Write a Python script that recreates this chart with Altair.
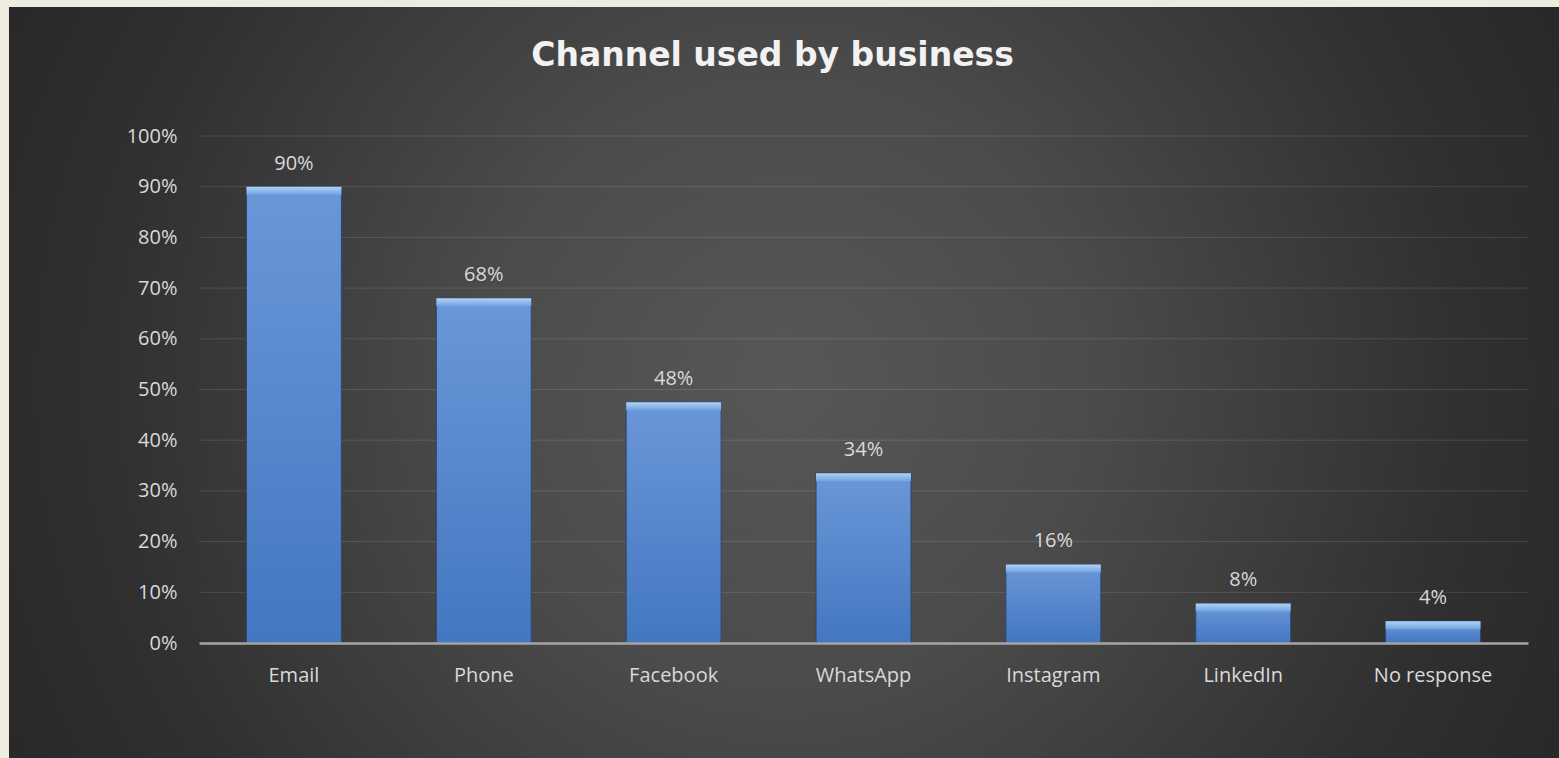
import altair as alt
import pandas as pd

categories = ["Email", "Phone", "Facebook", "WhatsApp", "Instagram", "LinkedIn", "No response"]
values = [0.90, 0.68, 0.475, 0.335, 0.155, 0.078, 0.043]
labels = ["90%", "68%", "48%", "34%", "16%", "8%", "4%"]
y_ticks = [0, 0.1, 0.2, 0.3, 0.4, 0.5, 0.6, 0.7, 0.8, 0.9, 1.0]
grid_ticks = [0.1, 0.2, 0.3, 0.4, 0.5, 0.6, 0.7, 0.8, 0.9, 1.0]

df = pd.DataFrame({"channel": categories, "value": values, "label": labels})
gdf = pd.DataFrame({"g": grid_ticks})

W, H = 1329, 507

bg = alt.Chart(alt.Data(values=[{}])).mark_rect(
    fill=alt.RadialGradient(
        gradient="radial",
        x1=0.5, y1=0.5, r1=0, x2=0.5, y2=0.5, r2=0.6,
        stops=[
            alt.GradientStop(offset=0, color="#575757"),
            alt.GradientStop(offset=0.33, color="#4b4b4b"),
            alt.GradientStop(offset=0.73, color="#303030"),
            alt.GradientStop(offset=0.93, color="#282828"),
            alt.GradientStop(offset=1, color="#272727"),
        ],
    ),
    strokeWidth=0,
).encode(
    x=alt.value(-190), x2=alt.value(1360), y=alt.value(-129), y2=alt.value(622)
)

yscale = alt.Scale(domain=[0, 1], nice=False)

grid = alt.Chart(gdf).mark_rule(color="#ffffff", opacity=0.12, strokeWidth=1).encode(
    y=alt.Y("g:Q", scale=yscale)
)

xenc = alt.X("channel:N", sort=categories, title=None,
             scale=alt.Scale(paddingInner=0.5, paddingOuter=0.25),
             axis=alt.Axis(labelAngle=0, labelColor="#d9d9d9", labelFontSize=20,
                           labelFont="Open Sans", labelPadding=22, ticks=False,
                           domainColor="#a6a6a6", domainWidth=2.5, grid=False,
                           zindex=1))
yenc = alt.Y("value:Q", title=None, scale=yscale,
             axis=alt.Axis(values=y_ticks, format=".0%", labelColor="#d9d9d9",
                           labelFontSize=20, labelFont="Open Sans", labelPadding=22,
                           ticks=False, domain=False, grid=False, zindex=1))

bars = alt.Chart(df).mark_bar(
    fill=alt.LinearGradient(
        gradient="linear", x1=0, y1=0, x2=0, y2=1,
        stops=[alt.GradientStop(offset=0, color="#6a97d8"),
               alt.GradientStop(offset=1, color="#4477c1")],
    ),
    stroke="#2c4770", strokeWidth=1,
).encode(x=xenc, y=yenc)

bevel = alt.Chart(df).mark_bar(
    y2Offset=8,
    fill=alt.LinearGradient(
        gradient="linear", x1=0, y1=0, x2=0, y2=1,
        stops=[alt.GradientStop(offset=0, color="#b0d3f7"),
               alt.GradientStop(offset=1, color="#73a2e0")],
    ),
    strokeWidth=0,
).encode(x=alt.X("channel:N", sort=categories), y="value:Q", y2="value:Q")

text = alt.Chart(df).mark_text(
    baseline="alphabetic", dy=-17, fontSize=20, font="Open Sans", color="#d9d9d9"
).encode(x=alt.X("channel:N", sort=categories), y="value:Q", text="label:N")

chart = alt.layer(bg, grid, bars, bevel, text).properties(
    width=W, height=H,
    autosize=alt.AutoSizeParams(type="none"),
    padding={"left": 199, "top": 136, "right": 31, "bottom": 115},
    background="#EEEBDF",
    title=alt.TitleParams(
        "Channel used by business", font="DejaVu Sans", fontWeight="bold",
        fontSize=33, color="#f2f2f2", anchor="middle", dx=-91, offset=-66,
    ),
).configure_view(stroke=None)

chart.save("out.html", embed_options={"renderer": "svg", "actions": False})
